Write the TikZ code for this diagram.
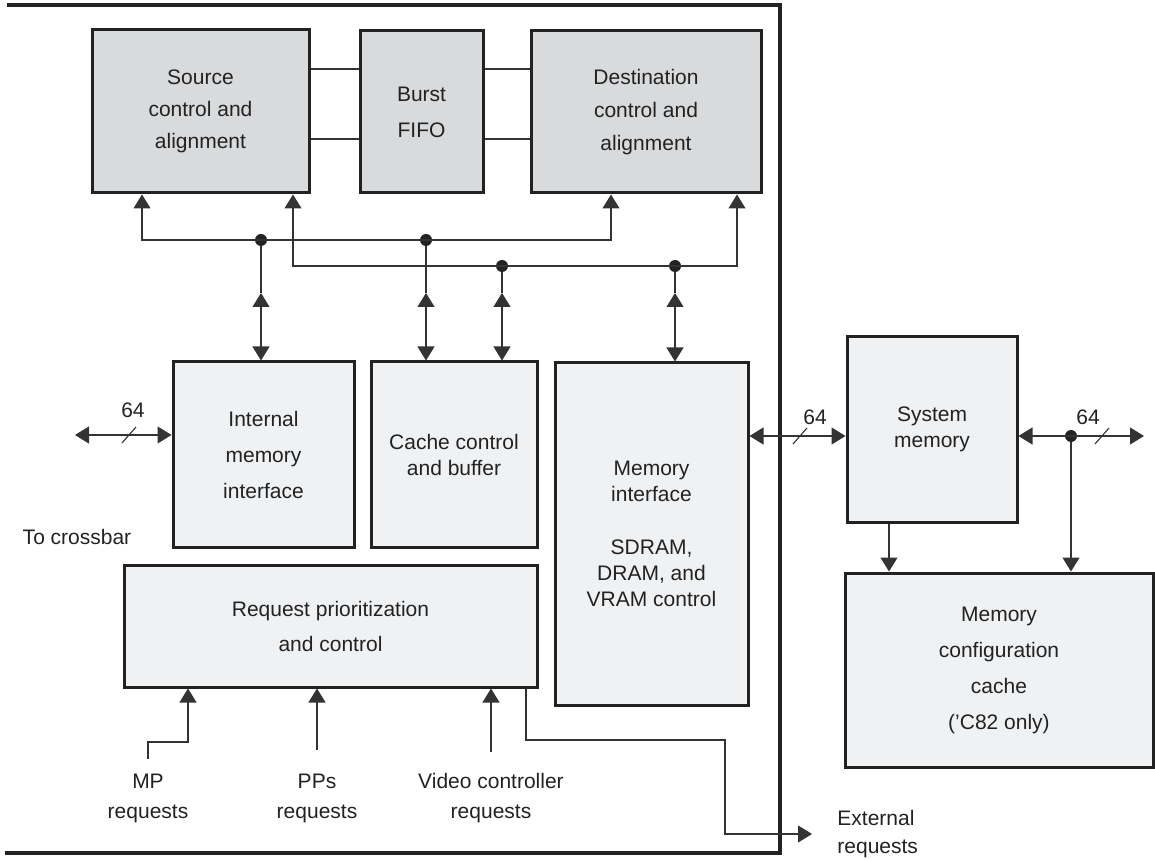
\documentclass[tikz,border=0pt]{standalone}
\usepackage{fontspec}
\setmainfont{Liberation Sans}
\usepackage{tikz}
\usetikzlibrary{arrows.meta, positioning}
\definecolor{memLine}{HTML}{222222}
\definecolor{memWire}{HTML}{333333}
\definecolor{memDark}{HTML}{D9DADC}
\definecolor{memLight}{HTML}{F0F1F3}

\tikzset{
  blk/.style={draw=memLine, line width=1.5pt, fill=memLight, text=memLine,
              align=center, inner sep=0pt},
  blkdark/.style={blk, fill=memDark},
  wire/.style={draw=memWire, line width=0.55pt},
  junction/.style={circle, fill=memLine, inner sep=0pt, minimum size=6pt},
  lbl/.style={text=memLine, align=center, inner sep=0pt},
  frame/.style={draw=memLine, line width=1.8pt},
  busmark/.pic={\draw[wire] (-7,8) -- (7,-8);}
}

\begin{document}
\begin{tikzpicture}[x=0.5pt, y=-0.5pt, font=\fontsize{10.5}{13}\selectfont,
                    >={Triangle[length=7pt, width=8.5pt]}]
  \useasboundingbox (0,0) rectangle (1155,860);
  \draw[frame] (7,5) -- (780,5) -- (780,853) -- (5,853);

  % top row
  \node[blkdark, minimum width=108.5pt, minimum height=81.5pt] (src) at (200.5,111.5)
    {Source\\[3pt]control and\\[3pt]alignment};
  \node[blkdark, minimum width=61.5pt, minimum height=81pt] (fifo) at (421.5,112)
    {Burst\\[5pt]FIFO};
  \node[blkdark, minimum width=115pt, minimum height=81pt] (dst) at (646,112)
    {Destination\\[3.5pt]control and\\[3.5pt]alignment};
  \draw[wire] (src.east |- 0,69) -- (fifo.west |- 0,69);
  \draw[wire] (src.east |- 0,139) -- (fifo.west |- 0,139);
  \draw[wire] (fifo.east |- 0,69) -- (dst.west |- 0,69);
  \draw[wire] (fifo.east |- 0,139) -- (dst.west |- 0,139);

  % middle row
  \node[blk, minimum width=90.5pt, minimum height=92.5pt] (imem) at (263.5,454.5)
    {Internal\\[5pt]memory\\[5pt]interface};
  \node[blk, minimum width=83pt, minimum height=92.5pt] (cache) at (454,454.5)
    {Cache control\\and buffer};
  \node[blk, minimum width=96.5pt, minimum height=171pt] (memif) at (651.5,534)
    {Memory\\interface\\[13.5pt]SDRAM,\\DRAM, and\\VRAM control};
  \node[blk, minimum width=206.5pt, minimum height=61pt] (req) at (330.5,626)
    {Request prioritization\\[4.5pt]and control};

  % internal buses
  \coordinate (busAw) at (142,240);
  \coordinate (busAe) at (611,240);
  \coordinate (busBw) at (293,266);
  \coordinate (busBe) at (737,266);
  \node[junction] (jA) at (261,240) {};
  \node[junction] (jB) at (426,240) {};
  \node[junction] (jC) at (502,266) {};
  \node[junction] (jD) at (675,266) {};
  \draw[wire,<->] (busAw |- src.south) -- (busAw) -- (busAe) -- (busAe |- dst.south);
  \draw[wire,<->] (busBw |- src.south) -- (busBw) -- (busBe) -- (busBe |- dst.south);
  \foreach \j/\b in {jA/imem, jB/cache, jC/cache, jD/memif}{
    \draw[wire] (\j) -- (\j |- 0,293);
    \draw[wire,<->] (\j |- 0,293) -- (\j |- \b.north);
  }

  % crossbar side
  \coordinate (xbar) at (75,435);
  \draw[wire,<->] (xbar) -- (xbar -| imem.west);
  \pic at (129,435) {busmark};
  \node[lbl] (wA) at (133,410) {64};
  \node[lbl] (xbarlbl) at (77,537) {To crossbar};

  % external memory
  \node[blk, minimum width=85pt, minimum height=92.5pt] (sysmem) at (932,429.5)
    {System\\memory};
  \node[blk, minimum width=154pt, minimum height=97pt] (cfg) at (999,670)
    {Memory\\[5pt]configuration\\[5pt]cache\\[5pt](’C82 only)};
  \draw[wire,<->] (memif.east |- 0,436) -- (sysmem.west |- 0,436);
  \pic at (800,436) {busmark};
  \node[lbl] (wB) at (815,417) {64};
  \coordinate (memout) at (1144,436);
  \node[junction] (jE) at (1071,436) {};
  \draw[wire,<->] (sysmem.east |- memout) -- (memout);
  \pic at (1102,436) {busmark};
  \node[lbl] (wC) at (1088,417) {64};
  \draw[wire,->] (jE) -- (jE |- cfg.north);
  \draw[wire,->] (889,0 |- sysmem.south) -- (889,0 |- cfg.north);

  % requests
  \node[lbl] (mpreq) at (148,798) {MP\\[2pt]requests};
  \node[lbl] (ppreq) at (317,798) {PPs\\[2pt]requests};
  \node[lbl] (vcreq) at (491,798) {Video controller\\[2pt]requests};
  \node[lbl, align=left, anchor=west] (extreq) at (837,834) {External\\[1pt]requests};
  \draw[wire,->] (mpreq.north |- 0,759) |- (188,742) -- (188,0 |- req.south);
  \draw[wire,->] (ppreq.north |- 0,750) -- (ppreq.north |- req.south);
  \draw[wire,->] (vcreq.north |- 0,752) -- (vcreq.north |- req.south);
  \coordinate (extend) at (812,834);
  \draw[wire,->] (526,0 |- req.south) |- (725,740) |- (extend);
\end{tikzpicture}
\end{document}
